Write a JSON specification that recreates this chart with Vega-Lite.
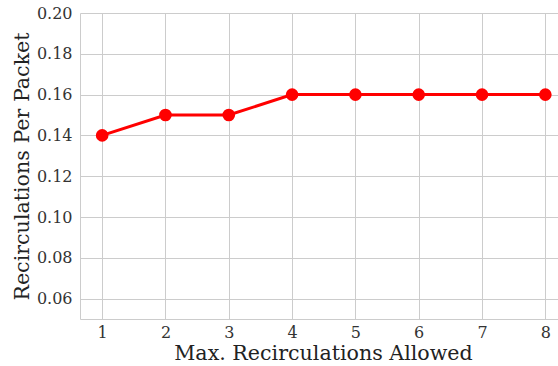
{
  "$schema": "https://vega.github.io/schema/vega-lite/v6.json",
  "autosize": "none",
  "width": 478,
  "height": 306,
  "padding": {"left": 80, "top": 13, "right": 0, "bottom": 47},
  "background": "white",
  "config": {
    "view": {"stroke": null},
    "font": "DejaVu Serif",
    "axis": {
      "gridColor": "#cccccc",
      "gridWidth": 1,
      "domainColor": "#cccccc",
      "domainWidth": 1,
      "ticks": false,
      "labelFont": "DejaVu Serif",
      "labelFontSize": 16,
      "labelColor": "#333333",
      "titleFont": "DejaVu Serif",
      "titleFontSize": 20.6,
      "titleFontWeight": "normal",
      "titleColor": "#222222"
    }
  },
  "data": {
    "values": [
      {"maxRecirc": 1, "perPacket": 0.14},
      {"maxRecirc": 2, "perPacket": 0.15},
      {"maxRecirc": 3, "perPacket": 0.15},
      {"maxRecirc": 4, "perPacket": 0.16},
      {"maxRecirc": 5, "perPacket": 0.16},
      {"maxRecirc": 6, "perPacket": 0.16},
      {"maxRecirc": 7, "perPacket": 0.16},
      {"maxRecirc": 8, "perPacket": 0.16}
    ]
  },
  "encoding": {
    "x": {
      "field": "maxRecirc",
      "type": "quantitative",
      "scale": {"domain": [0.65, 8.2], "nice": false, "zero": false},
      "axis": {
        "values": [1, 2, 3, 4, 5, 6, 7, 8],
        "title": "Max. Recirculations Allowed",
        "titleX": 243,
        "labelPadding": 5,
        "titlePadding": 3
      }
    },
    "y": {
      "field": "perPacket",
      "type": "quantitative",
      "scale": {"domain": [0.05, 0.2], "nice": false, "zero": false},
      "axis": {
        "values": [0.06, 0.08, 0.1, 0.12, 0.14, 0.16, 0.18, 0.2],
        "format": ".2f",
        "title": "Recirculations Per Packet",
        "labelPadding": 8,
        "titlePadding": 4
      }
    }
  },
  "layer": [
    {"mark": {"type": "line", "color": "#ff0000", "strokeWidth": 3}},
    {"mark": {"type": "point", "filled": true, "color": "#ff0000", "opacity": 1, "size": 160}}
  ]
}
